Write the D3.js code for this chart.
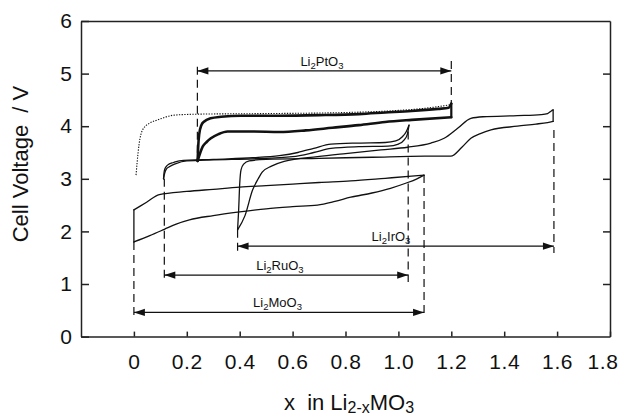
<!DOCTYPE html>
<html><head><meta charset="utf-8">
<script src="https://cdn.jsdelivr.net/npm/d3@7"></script>
<style>
body{margin:0;background:#fff}
svg{display:block}
text{font-family:"Liberation Sans",Arial,Helvetica,sans-serif;fill:#111}
</style>
</head><body><svg id="c" width="618" height="416"></svg>
<script>
// ---- axis ticks ----
const xTicks = [0,0.2,0.4,0.6,0.8,1.0,1.2,1.4,1.6,1.8];
const xTickLabels = ["0","0.2","0.4","0.6","0.8","1.0","1.2","1.4","1.6","1.8"];
const yTicks = [0,1,2,3,4,5,6];
const yTicksRight = [1,2,3,4,5];

// ---- curves: [x in Li(2-x)MO3, cell voltage / V] ----
const moLower = [[0,1.80],[0.06,1.92],[0.115,2.04],[0.16,2.14],[0.21,2.22],[0.3,2.30],[0.4,2.37],[0.5,2.43],[0.6,2.47],[0.694,2.50],[0.76,2.57],[0.82,2.65],[0.9,2.73],[0.97,2.82],[1.03,2.92],[1.07,3.00],[1.097,3.07]];
const moUpper = [[0,2.41],[0.048,2.555],[0.096,2.70],[0.2,2.76],[0.3,2.80],[0.4,2.84],[0.5,2.87],[0.6,2.90],[0.7,2.93],[0.82,2.96],[0.95,3.01],[1.05,3.05],[1.097,3.07]];
const moEdge = [[0,1.80],[0,2.41]];

const ruUpper = [[0.112,3.0],[0.114,3.12],[0.118,3.2],[0.127,3.26],[0.15,3.31],[0.171,3.34],[0.3,3.37],[0.45,3.40],[0.55,3.44],[0.62,3.50],[0.68,3.58],[0.745,3.66],[0.85,3.68],[0.95,3.69],[0.99,3.72],[1.015,3.80],[1.03,3.90],[1.04,4.02]];
const ruLower = [[0.112,3.0],[0.116,3.1],[0.122,3.18],[0.134,3.23],[0.159,3.29],[0.2,3.34],[0.3,3.36],[0.45,3.38],[0.6,3.42],[0.68,3.50],[0.745,3.58],[0.85,3.61],[0.96,3.62],[1.0,3.66],[1.022,3.74],[1.034,3.85],[1.04,4.02]];

const irLower = [[0.392,2.03],[0.396,2.4],[0.400,2.9],[0.405,3.17],[0.415,3.28],[0.436,3.34],[0.5,3.37],[0.7,3.39],[0.9,3.41],[1.1,3.43],[1.198,3.43],[1.24,3.6],[1.274,3.77],[1.31,3.86],[1.35,3.93],[1.45,4.0],[1.52,4.04],[1.564,4.07],[1.585,4.09]];
const irUpper = [[0.392,2.03],[0.42,2.3],[0.449,2.79],[0.47,3.0],[0.486,3.13],[0.52,3.24],[0.568,3.33],[0.694,3.42],[0.8,3.48],[0.934,3.55],[1.035,3.60],[1.123,3.68],[1.173,3.77],[1.224,3.96],[1.274,4.15],[1.32,4.18],[1.45,4.20],[1.54,4.22],[1.564,4.24],[1.578,4.29],[1.585,4.31]];
const irEdge = [[1.585,4.31],[1.585,4.09]];

const ptUpper = [[0.241,3.34],[0.243,3.6],[0.247,3.85],[0.255,4.02],[0.266,4.09],[0.29,4.15],[0.33,4.18],[0.405,4.20],[0.55,4.20],[0.7,4.21],[0.85,4.23],[0.95,4.26],[1.05,4.29],[1.15,4.33],[1.19,4.35],[1.2,4.43]];
const ptLower = [[0.241,3.34],[0.26,3.61],[0.275,3.70],[0.291,3.77],[0.32,3.85],[0.354,3.90],[0.45,3.90],[0.55,3.89],[0.65,3.92],[0.75,3.97],[0.85,4.02],[0.95,4.08],[1.05,4.12],[1.2,4.17]];
const ptEdge = [[1.2,4.43],[1.2,4.17]];
const ptDotted = [[0.008,3.07],[0.012,3.3],[0.02,3.67],[0.033,3.93],[0.06,4.06],[0.09,4.12],[0.152,4.21],[0.253,4.23],[0.5,4.24],[0.8,4.26],[1.0,4.30],[1.1,4.34],[1.2,4.41]];

// ---- range annotations (Pt, Ir, Ru, Mo) ----
const annMetal = ["Pt","Ir","Ru","Mo"];
const annFrom = [0.24,0.392,0.115,0];
const annTo = [1.2,1.588,1.037,1.097];
const annV = [5.05,1.72,1.17,0.46];
const annLabelX = [0.711,0.972,0.552,0.543];
const dashX = [0.24,1.2,0.392,1.588,0.115,1.037,0,1.097];
const dashTop = [5.13,5.24,2.03,3.93,3.0,3.9,1.80,3.07];
const dashBottom = [3.34,4.43,1.59,1.59,1.11,1.04,0.38,0.38];

// ---- drawing ----
const svg = d3.select("#c");
svg.append("rect").attr("width",618).attr("height",416).attr("fill","#fff");
const x = d3.scaleLinear().domain([-0.2,1.8]).range([81,610]);
const y = d3.scaleLinear().domain([0,6]).range([336.6,21]);
const ink = "#111";

const smooth = d3.line().x(d=>x(d[0])).y(d=>y(d[1])).curve(d3.curveMonotoneX);
const straight = d3.line().x(d=>x(d[0])).y(d=>y(d[1]));

const g = svg.append("g");
function draw(data, gen, w, dash){
  const p = g.append("path").attr("d", gen(data)).attr("fill","none")
    .attr("stroke", ink).attr("stroke-width", w).attr("stroke-linejoin","round").attr("stroke-linecap","round");
  if (dash) p.attr("stroke-dasharray", dash).attr("stroke-linecap","butt");
  return p;
}
// thin curves
[moLower, moUpper, ruUpper, ruLower, irLower, irUpper].forEach(d=>draw(d, smooth, 1.3));
[moEdge, irEdge].forEach(d=>draw(d, straight, 1.3));
// Pt
draw(ptDotted, smooth, 1.1, "1.3,1.4");
draw(ptUpper, smooth, 2.6);
draw(ptLower, smooth, 2.6);
draw(ptEdge, straight, 2.2);

// dashed verticals
dashX.forEach((dx,i)=>{
  g.append("line").attr("x1",x(dx)).attr("x2",x(dx)).attr("y1",y(dashTop[i])).attr("y2",y(dashBottom[i]))
    .attr("stroke",ink).attr("stroke-width",1.2).attr("stroke-dasharray","8,5");
});

// arrows
const headL = 11, headW = 3.6;
annMetal.forEach((m,i)=>{
  const x0 = x(annFrom[i]), x1 = x(annTo[i]), yy = y(annV[i]);
  g.append("line").attr("x1",x0).attr("x2",x1).attr("y1",yy).attr("y2",yy).attr("stroke",ink).attr("stroke-width",1.2);
  g.append("path").attr("d",`M${x0},${yy}L${x0+headL},${yy-headW}L${x0+headL},${yy+headW}Z`).attr("fill",ink);
  g.append("path").attr("d",`M${x1},${yy}L${x1-headL},${yy-headW}L${x1-headL},${yy+headW}Z`).attr("fill",ink);
  const t = g.append("text").attr("x",x(annLabelX[i])).attr("y",yy-5).attr("text-anchor","middle").attr("font-size",13);
  t.append("tspan").text("Li");
  t.append("tspan").attr("font-size",9.5).attr("dy",3).text("2");
  t.append("tspan").attr("dy",-3).text(m+"O");
  t.append("tspan").attr("font-size",9.5).attr("dy",3).text("3");
});

// axes
const axW = 1.5;
const xa = svg.append("g").attr("transform",`translate(0,${y(0)})`)
  .call(d3.axisBottom(x).tickValues(xTicks).tickFormat((d,i)=>xTickLabels[i]).tickSizeInner(-5).tickSizeOuter(0).tickPadding(17));
const ya = svg.append("g").attr("transform",`translate(${x(-0.2)},0)`)
  .call(d3.axisLeft(y).tickValues(yTicks).tickFormat(d3.format("d")).tickSizeInner(-8).tickSizeOuter(0).tickPadding(9));
const ra = svg.append("g").attr("transform",`translate(${x(1.8)},0)`)
  .call(d3.axisRight(y).tickValues(yTicksRight).tickFormat("").tickSizeInner(-7).tickSizeOuter(0));
const ta = svg.append("g").attr("transform",`translate(0,${y(6)})`)
  .call(d3.axisTop(x).tickValues([]).tickSizeOuter(0));
[xa,ya,ra,ta].forEach(a=>{
  a.selectAll("path,line").attr("stroke","#222").attr("stroke-width",axW);
  a.selectAll("text").attr("font-size",21).attr("fill","#111").attr("font-family","'Liberation Sans',Arial,sans-serif");
});
xa.selectAll("text").attr("letter-spacing","0.6px");
// keep the last label inside the frame
xa.selectAll(".tick").filter(d=>d===xTicks[xTicks.length-1]).select("text").attr("text-anchor","end").attr("dx",8);

// axis titles
svg.append("text").attr("transform",`translate(28,164) rotate(-90)`).attr("text-anchor","middle")
  .attr("font-size",22).text("Cell Voltage  / V").style("white-space","pre");
const xt = svg.append("text").attr("x",349).attr("y",410).attr("text-anchor","middle").attr("font-size",22).style("white-space","pre");
xt.append("tspan").text("x  in Li");
xt.append("tspan").attr("font-size",16).attr("dy",3).text("2-x");
xt.append("tspan").attr("dy",-3).text("MO");
xt.append("tspan").attr("font-size",16).attr("dy",3).text("3");
</script></body></html>
